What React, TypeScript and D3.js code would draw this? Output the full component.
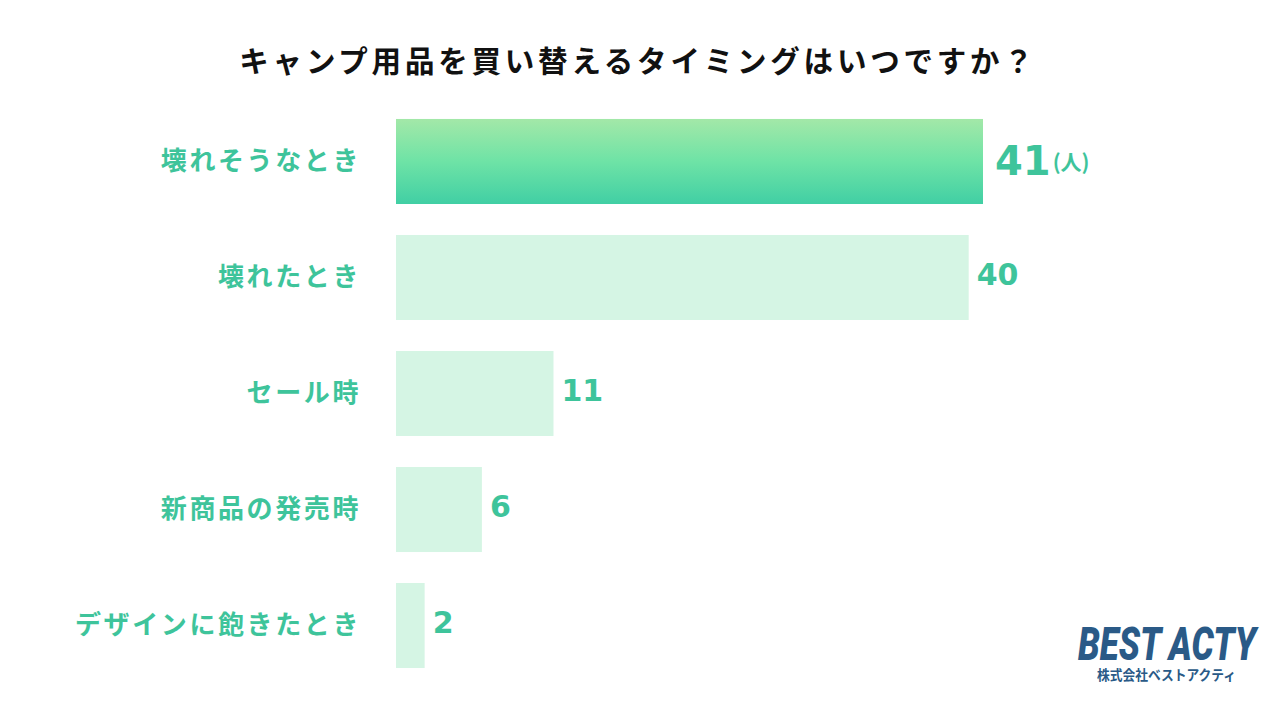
import React from "react";
import * as d3 from "d3";

const title = "キャンプ用品を買い替えるタイミングはいつですか？";
const categories = ["壊れそうなとき", "壊れたとき", "セール時", "新商品の発売時", "デザインに飽きたとき"];
const values = [41, 40, 11, 6, 2];
const unitLabel = "(人)";
const logoMain = "BEST ACTY";
const logoSub = "株式会社ベストアクティ";

const W = 1280;
const H = 720;
const jp = "'Noto Sans CJK JP', 'Noto Sans', sans-serif";
const num = "'DejaVu Sans', Verdana, sans-serif";
const teal = "#3ec49b";
const light = "#d5f5e4";
const logoColor = "#2a5a87";

export default function App() {
  const x = d3.scaleLinear().domain([0, 41]).range([396, 983]);
  const y = d3.scaleBand<string>().domain(categories).range([88, 699]).padding(0.267);
  const bw = y.bandwidth();

  return (
    <svg width={W} height={H} style={{ position: "absolute", left: 0, top: 0, background: "#fff" }}>
      <defs>
        <linearGradient id="topGrad" x1="0" y1="0" x2="0" y2="1">
          <stop offset="0%" stopColor="#a3e8a8" />
          <stop offset="50%" stopColor="#6ee3a6" />
          <stop offset="100%" stopColor="#41cfa4" />
        </linearGradient>
      </defs>
      <rect x={0} y={0} width={W} height={H} fill="#fff" />
      <text
        x={638}
        y={59}
        textAnchor="middle"
        dominantBaseline="central"
        fontFamily={jp}
        fontWeight={700}
        fontSize={29.5}
        letterSpacing={3.8}
        fill="#111"
      >
        {title}
      </text>
      {categories.map((c, i) => {
        const by = y(c)!;
        const cy = by + bw / 2;
        const v = values[i];
        const xe = x(v);
        return (
          <g key={c}>
            <rect x={x(0)} y={by} width={xe - x(0)} height={bw} fill={i === 0 ? "url(#topGrad)" : light} />
            <text
              x={361}
              y={cy - 3}
              textAnchor="end"
              dominantBaseline="central"
              fontFamily={jp}
              fontWeight={700}
              fontSize={26}
              letterSpacing={2.6}
              fill={teal}
            >
              {c}
            </text>
            {i === 0 ? (
              <text x={xe + 12} y={cy} dominantBaseline="central" fontFamily={num} fontWeight={700} fill={teal}>
                <tspan fontSize={40}>{v}</tspan>
                <tspan fontSize={21} fontFamily={jp} dx={2}>{unitLabel}</tspan>
              </text>
            ) : (
              <text
                x={xe + 8}
                y={cy - 3}
                dominantBaseline="central"
                fontFamily={num}
                fontWeight={700}
                fontSize={30}
                fill={teal}
              >
                {v}
              </text>
            )}
          </g>
        );
      })}
      <text
        x={1078}
        y={660}
        fontFamily="'Liberation Sans Narrow', Roboto, sans-serif"
        fontWeight={900}
        fontStyle="italic"
        fontSize={46}
        textLength={178}
        lengthAdjust="spacingAndGlyphs"
        fill={logoColor}
      >
        {logoMain}
      </text>
      <text
        x={1097}
        y={680}
        fontFamily={jp}
        fontWeight={700}
        fontSize={14}
        textLength={139}
        lengthAdjust="spacingAndGlyphs"
        fill={logoColor}
      >
        {logoSub}
      </text>
    </svg>
  );
}
